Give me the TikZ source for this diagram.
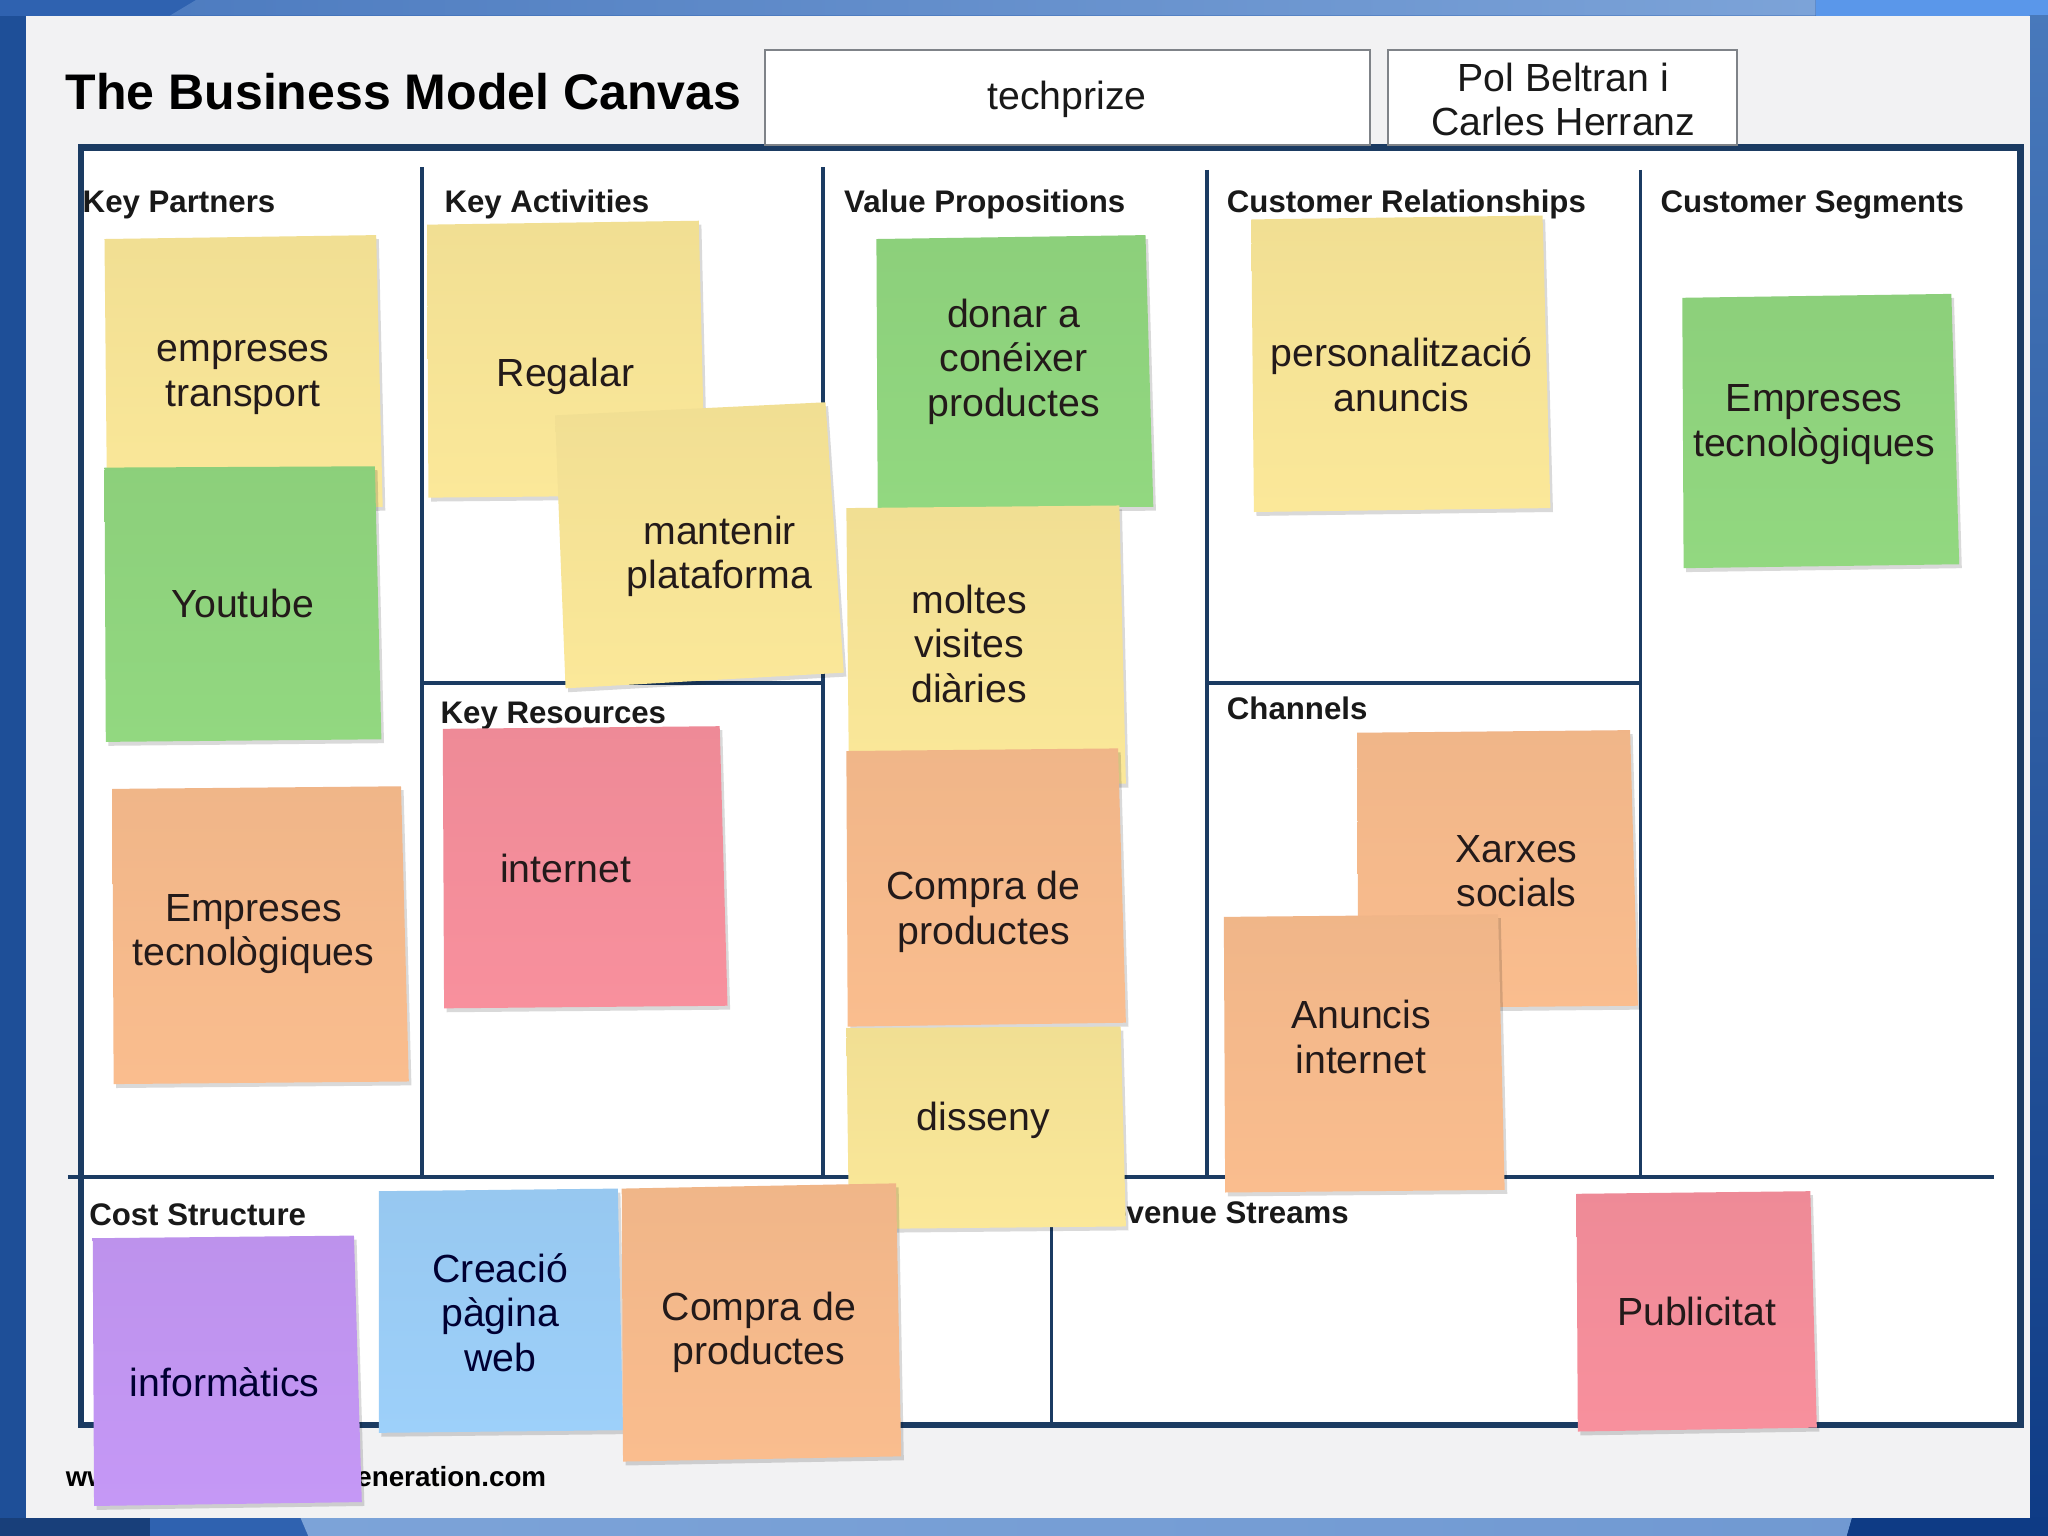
\documentclass[tikz,border=0pt]{standalone}
\usepackage{fontspec}
\setmainfont{Liberation Sans}
\definecolor{navy}{HTML}{1B3B62}
\definecolor{panel}{HTML}{F2F2F3}
\definecolor{sy}{HTML}{FBE899}
\definecolor{sg}{HTML}{92D880}
\definecolor{so}{HTML}{FABD8E}
\definecolor{spk}{HTML}{F8909D}
\definecolor{su}{HTML}{C598F6}
\definecolor{sb}{HTML}{9DD0FA}
\definecolor{ink}{HTML}{231A1A}
\definecolor{bgA}{HTML}{1E4F98}
\definecolor{bgB}{HTML}{2F62B0}
\definecolor{bgC}{HTML}{7CA3D8}
\definecolor{bgD}{HTML}{5A97EA}
\definecolor{bgE}{HTML}{0E3B85}
\definecolor{boxgray}{HTML}{7F8388}
\tikzset{
  stext/.style={font=\fontsize{17.1}{19.4}\selectfont, align=center, text=ink, inner sep=0pt},
  hdr/.style={font=\bfseries\fontsize{13.6}{15}\selectfont, anchor=base west, inner sep=0pt, text=black!90},
  ln/.style={draw=navy, line width=0.055cm},
  topbox/.style={fill=white, draw=boxgray, line width=0.03cm},
}
\newcommand{\stk}[5]{%
  \fill[black, opacity=0.15, shift={(2,3)}] (#2) -- (#3) -- (#4) -- (#5) -- cycle;
  \shade[top color=#1!96!black, bottom color=#1] (#2) -- (#3) -- (#4) -- (#5) -- cycle;}
\begin{document}
\begin{tikzpicture}[x=0.02cm, y=-0.02cm]
\useasboundingbox (0,0) rectangle (1568,1176);
% ---- blue frame ----
\fill[bgA] (0,0) rectangle (1568,1176);
\fill[bgB] (0,0) rectangle (1568,12);
\shade[left color=bgB!60!bgC, right color=bgC] (150,0) -- (1390,0) -- (1390,12) -- (130,12) -- cycle;
\fill[bgD] (1390,0) rectangle (1568,12);
\shade[top color=bgD!80!black, bottom color=bgE] (1554,12) rectangle (1568,1176);
\fill[bgA!80!black] (0,1162) rectangle (1568,1176);
\fill[bgB] (115,1162) -- (230,1162) -- (236,1176) -- (115,1176) -- cycle;
\shade[left color=bgC, right color=bgC!85!bgB] (230,1162) -- (1418,1162) -- (1414,1176) -- (236,1176) -- cycle;
\fill[bgE] (1418,1162) -- (1568,1162) -- (1568,1176) -- (1414,1176) -- cycle;
% ---- panel ----
\fill[panel] (20,12) rectangle (1554,1162);
% ---- canvas ----
\fill[white] (62,113) rectangle (1547,1091);
\draw[ln] (323,128) -- (323,901);
\draw[ln] (630,128) -- (630,901);
\draw[ln] (924,130) -- (924,901);
\draw[ln] (1256,130) -- (1256,901);
\draw[ln] (323,523) -- (630,523);
\draw[ln] (924,523) -- (1256,523);
\draw[ln] (52,901) -- (1527,901);
\draw[ln] (805,901) -- (805,1091);
\draw[navy, line width=0.1cm] (62,113) rectangle (1547,1091);
% ---- header ----
\node[anchor=base west, inner sep=0pt, font=\bfseries\fontsize{21.8}{24}\selectfont] (title) at (50,84) {The Business Model Canvas};
\draw[topbox] (586,38) rectangle (1049,111);
\node[stext, text=black!90] (project) at (817,76) {techprize};
\draw[topbox] (1063,38) rectangle (1330,111);
\node[stext, text=black!90] (authors) at (1197,76) {Pol Beltran i\\Carles Herranz};
% ---- block headers ----
\node[hdr] (hKP) at (63,163) {Key Partners};
\node[hdr] (hKA) at (340,163) {Key Activities};
\node[hdr] (hVP) at (646,163) {Value Propositions};
\node[hdr] (hCR) at (939,163) {Customer Relationships};
\node[hdr] (hCS) at (1271,163) {Customer Segments};
\node[hdr] (hKR) at (337,554) {Key Resources};
\node[hdr] (hCH) at (939,551) {Channels};
\node[hdr] (hCO) at (68,938) {Cost Structure};
\node[hdr, anchor=base east] (hRS) at (1033,937) {Revenue Streams};
\node[anchor=base west, inner sep=0pt, font=\bfseries\fontsize{12.1}{13}\selectfont] (footer) at (50,1138) {www.businessmodelgeneration.com};
% ---- sticky notes ----
\stk{sy}{80,183}{288,180}{293,388}{82,390}
\node[stext] (n1) at (186,289) {empreses\\transport};
\stk{sg}{80,358}{287,357}{292,566}{81,568}
\node[stext] (n2) at (186,462) {Youtube};
\stk{so}{86,604}{307,602}{313,828}{87,830}
\node[stext] (n3) at (194,715) {Empreses\\tecnològiques};
\stk{sy}{327,172}{535,169}{540,379}{328,381}
\node[stext] (n4) at (433,288) {Regalar};
\stk{sy}{425,318}{632,308}{646,515}{433,527}
\node[stext] (n5) at (551,426) {mantenir\\plataforma};
\stk{spk}{339,558}{551,556}{557,770}{340,772}
\node[stext] (n6) at (433,665) {internet};
\stk{sg}{671,183}{877,180}{883,388}{672,389}
\node[stext] (n7) at (776,277) {donar a\\conéixer\\productes};
\stk{sy}{648,389}{857,387}{862,600}{650,600}
\node[stext] (n8) at (742,493) {moltes\\visites\\diàries};
\stk{so}{648,575}{856,573}{862,783}{649,786}
\node[stext] (n9) at (753,698) {Compra de\\productes};
\stk{sy}{648,787}{858,786}{862,939}{650,941}
\node[stext] (n10) at (753,858) {disseny};
\stk{sy}{958,168}{1181,165}{1187,389}{960,392}
\node[stext] (n11) at (1073,287) {personalització\\anuncis};
\stk{sg}{1288,228}{1494,225}{1500,432}{1289,435}
\node[stext] (n12) at (1389,325) {Empreses\\tecnològiques};
\stk{so}{1039,561}{1248,559}{1254,770}{1040,772}
\node[stext] (n13) at (1161,667) {Xarxes\\socials};
\stk{so}{937,702}{1147,700}{1152,911}{938,913}
\node[stext] (n14) at (1042,794) {Anuncis\\internet};
\stk{su}{71,948}{271,946}{277,1150}{72,1153}
\node[stext, text=black!80!blue] (n15) at (172,1058) {informàtics};
\stk{sb}{290,912}{473,910}{477,1095}{290,1097}
\node[stext, text=black!80!blue] (n16) at (383,1005) {Creació\\pàgina\\web};
\stk{so}{476,910}{686,906}{690,1115}{477,1119}
\node[stext] (n17) at (581,1020) {Compra de\\productes};
\stk{spk}{1207,914}{1386,912}{1391,1093}{1208,1096}
\node[stext] (n18) at (1299,1004) {Publicitat};
\end{tikzpicture}
\end{document}
